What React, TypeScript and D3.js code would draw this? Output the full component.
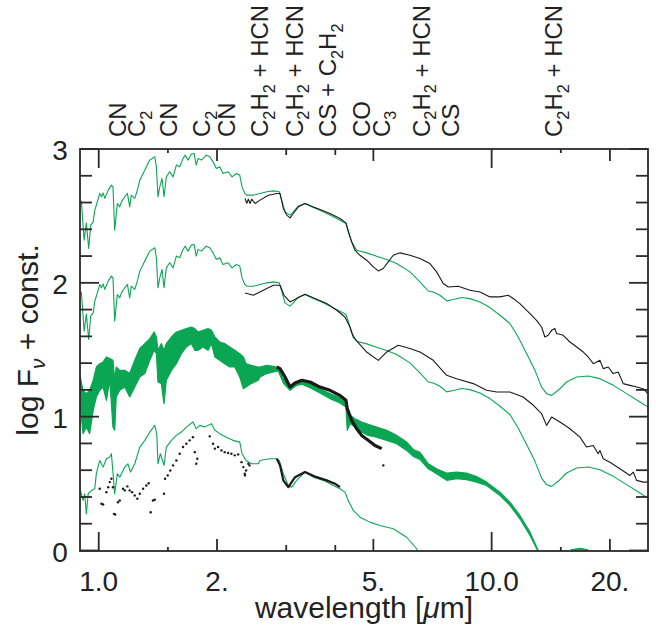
import React from "react";
import * as d3 from "d3";

// ---------- data ----------
// model spectrum of the top star: [wavelength µm, log Fν + const]
const model1: [number, number][] = [
  [0.903,2.613],[0.918,2.319],[0.930,2.446],[0.943,2.257],[0.954,2.431],[0.968,2.456],[0.977,2.543],[0.986,2.580],[1.006,2.668],[1.016,2.643],
  [1.026,2.672],[1.036,2.631],[1.057,2.693],[1.077,2.730],[1.087,2.717],[1.098,2.393],[1.115,2.593],[1.131,2.568],[1.142,2.605],[1.165,2.643],
  [1.183,2.668],[1.199,2.568],[1.210,2.655],[1.235,2.631],[1.254,2.693],[1.272,2.767],[1.297,2.817],[1.322,2.867],[1.349,2.917],[1.389,2.942],
  [1.402,2.867],[1.415,2.643],[1.430,2.717],[1.449,2.780],[1.466,2.643],[1.486,2.792],[1.516,2.830],[1.546,2.792],[1.576,2.880],[1.607,2.867],
  [1.639,2.930],[1.661,2.954],[1.688,2.917],[1.721,2.962],[1.748,2.967],[1.771,2.880],[1.790,2.930],[1.825,2.917],[1.878,2.954],[1.917,2.942],
  [1.954,2.904],[1.992,2.855],[2.032,2.867],[2.071,2.817],[2.134,2.830],[2.184,2.792],[2.240,2.817],[2.285,2.805],[2.316,2.717],[2.353,2.668],
  [2.381,2.655],[2.474,2.655],[2.573,2.668],[2.677,2.680],[2.782,2.687],[2.881,2.680],[2.922,2.618],[2.979,2.530],[3.068,2.506],[3.128,2.530],
  [3.220,2.573],[3.349,2.593],[3.483,2.568],[3.657,2.543],[3.877,2.506],[4.111,2.468],[4.258,2.444],[4.316,2.393],[4.403,2.306],[4.534,2.244],
  [4.808,2.224],[5.097,2.199],[5.405,2.174],[5.731,2.144],[6.195,2.082],[6.569,2.007],[6.897,1.939],[7.102,1.932],[7.386,1.907],[7.682,1.865],
  [7.985,1.875],[8.388,1.890],[8.806,1.882],[9.338,1.857],[9.901,1.815],[10.50,1.758],[11.13,1.696],[11.68,1.595],[12.28,1.471],[12.89,1.346],
  [13.40,1.221],[13.80,1.172],[14.21,1.159],[14.77,1.197],[15.51,1.259],[16.46,1.296],[17.61,1.304],[18.86,1.284],[20.39,1.234],[22.06,1.172],
  [23.85,1.109],[25.0,1.072],
];
// the second star uses the same model, shifted by a constant
const model2Shift = 0.68;

const obs1: [number, number][] = [
  [2.357,2.631],[2.381,2.595],[2.403,2.625],[2.427,2.593],[2.451,2.625],[2.499,2.593],[2.573,2.618],[2.702,2.655],[2.838,2.668],[2.893,2.668],
  [2.950,2.556],[3.009,2.506],[3.068,2.485],[3.128,2.518],[3.220,2.568],[3.349,2.593],[3.483,2.573],[3.657,2.548],[3.877,2.518],[4.111,2.481],
  [4.258,2.448],[4.316,2.381],[4.403,2.306],[4.489,2.244],[4.622,2.206],[4.808,2.169],[4.997,2.119],[5.146,2.089],[5.298,2.107],[5.455,2.156],
  [5.618,2.206],[5.843,2.224],[6.195,2.206],[6.569,2.182],[6.966,2.144],[7.242,2.082],[7.531,1.995],[7.754,1.969],[8.222,1.975],[8.806,1.945],
  [9.338,1.932],[9.901,1.895],[10.50,1.895],[11.02,1.907],[11.35,1.883],[11.80,1.845],[12.15,1.808],[12.52,1.770],[13.01,1.720],[13.40,1.670],
  [13.66,1.595],[13.93,1.608],[14.21,1.645],[14.49,1.658],[14.63,1.621],[15.21,1.608],[15.82,1.558],[16.46,1.521],[17.11,1.483],[17.61,1.446],
  [18.14,1.396],[18.86,1.421],[19.23,1.359],[19.80,1.371],[20.39,1.322],[21.00,1.334],[21.62,1.247],[22.49,1.234],[23.39,1.221],[24.31,1.209],
  [24.97,1.172],
];

const obs2: [number, number][] = [
  [2.357,1.924],[2.474,1.907],[2.623,1.945],[2.782,1.982],[2.893,1.982],[2.962,1.907],[3.068,1.857],[3.190,1.883],[3.349,1.915],[3.551,1.883],
  [3.803,1.845],[4.033,1.795],[4.233,1.745],[4.359,1.670],[4.445,1.595],[4.808,1.483],[5.146,1.421],[5.405,1.483],[5.785,1.533],[6.195,1.509],
  [6.569,1.483],[7.102,1.421],[7.682,1.309],[8.144,1.284],[8.977,1.247],[9.709,1.197],[10.30,1.184],[11.13,1.184],[12.03,1.147],[12.77,1.085],
  [13.40,1.022],[13.80,0.935],[14.21,0.997],[14.92,0.960],[15.82,0.910],[16.78,0.847],[17.44,0.773],[18.14,0.785],[18.67,0.723],[18.86,0.748],
  [19.23,0.686],[20.00,0.660],[21.21,0.611],[22.49,0.561],[22.93,0.586],[23.39,0.524],[24.31,0.511],[24.95,0.511],
];

// high-resolution model of the third star: [wavelength, upper envelope, lower envelope]
const model3: [number, number, number][] = [
  [0.894,1.322,1.122],[0.912,1.197,0.873],[0.930,1.172,0.922],[0.948,1.197,0.873],[0.968,1.272,1.047],[0.986,1.371,1.147],[1.006,1.396,1.197],
  [1.026,1.409,1.221],[1.046,1.446,1.122],[1.067,1.434,1.272],[1.087,1.421,0.922],[1.098,1.272,0.898],[1.108,1.371,1.147],[1.131,1.346,1.197],
  [1.165,1.346,1.221],[1.199,1.322,1.147],[1.235,1.421,1.221],[1.272,1.509,1.296],[1.310,1.546,1.322],[1.349,1.583,1.421],[1.383,1.633,1.496],
  [1.402,1.595,1.471],[1.415,1.496,1.259],[1.443,1.546,1.247],[1.466,1.496,1.097],[1.486,1.546,1.272],[1.531,1.595,1.346],[1.576,1.633,1.396],
  [1.623,1.645,1.471],[1.671,1.658,1.521],[1.721,1.670,1.546],[1.756,1.658,1.496],[1.790,1.633,1.496],[1.842,1.645,1.521],[1.898,1.658,1.496],
  [1.936,1.645,1.546],[1.975,1.595,1.446],[2.032,1.558,1.421],[2.092,1.546,1.396],[2.155,1.521,1.371],[2.219,1.496,1.371],[2.285,1.471,1.296],
  [2.334,1.446,1.209],[2.372,1.396,1.221],[2.443,1.384,1.247],[2.547,1.371,1.272],[2.573,1.371,1.296],[2.677,1.384,1.322],[2.782,1.376,1.334],
  [2.864,1.366,1.341],[2.950,1.284,1.251],[3.068,1.221,1.197],[3.190,1.259,1.234],[3.287,1.272,1.242],[3.449,1.247,1.217],[3.657,1.209,1.177],
  [3.877,1.172,1.135],[4.111,1.142,1.102],[4.258,1.122,1.072],[4.290,1.072,0.898],[4.359,1.010,0.948],[4.489,0.985,0.922],[4.670,0.960,0.885],
  [4.850,0.942,0.860],[5.097,0.922,0.847],[5.405,0.898,0.823],[5.731,0.860,0.798],[6.077,0.810,0.748],[6.317,0.755,0.703],[6.569,0.733,0.681],
  [6.897,0.648,0.611],[7.242,0.611,0.574],[7.682,0.578,0.524],[8.144,0.586,0.536],[8.636,0.578,0.529],[9.158,0.553,0.511],[9.709,0.511,0.486],
  [10.50,0.436,0.411],[11.13,0.361,0.337],[11.80,0.262,0.237],[12.52,0.137,0.112],[13.14,0.0,-0.01],[13.30,-0.03,-0.04],
];
const model3Tail: [number, number][] = [[15.9,0.0],[16.8,0.012],[17.6,0.0]];

const obs3: [number, number][] = [
  [2.838,1.371],[2.893,1.359],[2.979,1.296],[3.068,1.221],[3.159,1.251],[3.287,1.272],[3.449,1.259],[3.657,1.221],[3.877,1.197],[4.111,1.159],
  [4.258,1.122],[4.290,1.060],[4.403,0.972],[4.534,0.910],[4.670,0.860],[4.850,0.823],[5.047,0.785],[5.250,0.761],
];
const obs3Stray: [number, number][] = [[5.30,0.636]];

const model4: [number, number][] = [
  [0.894,0.473],[0.912,0.374],[0.921,0.424],[0.930,0.274],[0.940,0.424],[0.959,0.449],[0.977,0.461],[0.986,0.574],[1.006,0.673],[1.026,0.623],
  [1.046,0.686],[1.067,0.698],[1.077,0.723],[1.098,0.424],[1.115,0.574],[1.131,0.548],[1.165,0.623],[1.186,0.648],[1.205,0.586],[1.235,0.648],
  [1.272,0.773],[1.310,0.823],[1.349,0.885],[1.389,0.935],[1.405,0.873],[1.415,0.648],[1.435,0.723],[1.466,0.636],[1.486,0.773],[1.531,0.823],
  [1.576,0.860],[1.623,0.885],[1.671,0.922],[1.737,0.960],[1.771,0.910],[1.809,0.935],[1.862,0.922],[1.936,0.948],[1.975,0.898],[2.032,0.873],
  [2.113,0.847],[2.195,0.823],[2.285,0.810],[2.316,0.723],[2.372,0.673],[2.443,0.648],[2.547,0.648],[2.573,0.673],[2.729,0.686],[2.838,0.686],
  [2.881,0.673],[2.950,0.574],[3.037,0.486],[3.098,0.473],[3.190,0.524],[3.349,0.586],[3.518,0.548],[3.728,0.524],[3.954,0.486],[4.111,0.461],
  [4.233,0.436],[4.316,0.374],[4.445,0.299],[4.622,0.249],[4.901,0.212],[5.197,0.187],[5.618,0.162],[6.077,0.099],[6.442,0.013],[6.50,-0.013],
];

const obs4: [number, number][] = [
  [2.838,0.686],[2.893,0.636],[2.950,0.524],[3.037,0.473],[3.159,0.548],[3.349,0.586],[3.586,0.548],[3.803,0.524],[3.993,0.499],[4.111,0.473],
];
const obs4Dots: [number, number][] = [
  [1.006,0.461],[1.016,0.349],[1.026,0.344],[1.046,0.436],[1.057,0.473],[1.067,0.511],[1.077,0.536],[1.087,0.473],[1.093,0.274],[1.101,0.269],
  [1.119,0.361],[1.131,0.374],[1.153,0.461],[1.165,0.449],[1.183,0.479],[1.199,0.449],[1.216,0.436],[1.235,0.411],[1.254,0.387],[1.272,0.424],
  [1.297,0.461],[1.322,0.486],[1.340,0.503],[1.356,0.286],[1.374,0.374],[1.389,0.379],[1.466,0.424],[1.475,0.536],[1.498,0.561],[1.521,0.598],
  [1.546,0.636],[1.576,0.673],[1.607,0.723],[1.639,0.773],[1.671,0.798],[1.704,0.823],[1.737,0.847],[1.756,0.735],[1.771,0.648],[1.781,0.686],
  [1.917,0.853],[1.954,0.798],[1.975,0.761],[2.013,0.773],[2.053,0.748],[2.092,0.735],[2.134,0.728],[2.176,0.723],[2.219,0.711],[2.264,0.718],
  [2.309,0.660],[2.334,0.623],[2.353,0.574],[2.357,0.561],[2.372,0.598],[2.403,0.648],[2.420,0.636],
];

const bandLabels = ["CN","C_2","CN","C_2","CN","C_2H_2 + HCN","C_2H_2 + HCN","CS + C_2H_2","CO","C_3","C_2H_2 + HCN","CS","C_2H_2 + HCN"];
const bandWaves = [1.113,1.25,1.50,1.83,2.11,2.57,3.14,3.83,4.65,5.23,6.62,7.87,14.4];

const xTickValues = [1, 1.5, 2, 3, 4, 5, 10, 15, 20];
const xTickLabels = ["1.0", "", "2.", "", "", "5.", "10.0", "", "20."];
const yTickValues = [0, 1, 2, 3];
const yTickLabels = ["0", "1", "2", "3"];

// ---------- drawing ----------
const FONT = '"Liberation Sans", Arial, Helvetica, sans-serif';
const GREEN = "#0aa653";
const BLACK = "#1a1a1a";
const AXIS = "#2a2a2a";

const PL = 80, PR = 648, PT = 149, PB = 551;

function subTspans(label: string, fs: number) {
  const parts = label.split(/(_\d)/).filter((p) => p.length);
  const sub = fs * 0.68;
  const shift = fs * 0.26;
  let prevSub = false;
  return parts.map((p, i) => {
    if (p.startsWith("_")) {
      prevSub = true;
      return (
        <tspan key={i} fontSize={sub} dy={shift}>
          {p.slice(1)}
        </tspan>
      );
    }
    const dy = prevSub ? -shift : undefined;
    prevSub = false;
    return (
      <tspan key={i} dy={dy}>
        {p}
      </tspan>
    );
  });
}

export default function App() {
  const x = d3.scaleLog().domain([0.896, 25]).range([PL, PR]);
  const y = d3.scaleLinear().domain([0, 3]).range([550.5, PT]);

  const line = d3
    .line<[number, number]>()
    .x((d) => x(d[0]))
    .y((d) => y(d[1]));
  const band = d3
    .area<[number, number, number]>()
    .x((d) => x(d[0]))
    .y0((d) => y(d[2]))
    .y1((d) => y(d[1]));

  const model2 = model1.map(([l, v]) => [l, v - model2Shift] as [number, number]);

  const minorY = d3.range(0, 3.0001, 0.2).filter((v) => Math.abs(v - Math.round(v)) > 1e-6);

  const xTickLen = (v: number, label: string) =>
    v === 1 || v === 10 ? 19 : label ? 12 : v === 3 || v === 4 ? 6 : 4;

  const annFs = 24;

  return (
    <svg
      width={656}
      height={630}
      style={{ position: "absolute", left: 0, top: 0, display: "block", background: "#fff" }}
      fontFamily={FONT}
    >
      <defs>
        <clipPath id="plot">
          <rect x={PL} y={PT} width={PR - PL} height={PB - PT} />
        </clipPath>
      </defs>

      <g clipPath="url(#plot)" fill="none" strokeLinejoin="round">
        {/* star 1 */}
        <path d={line(model1) || ""} stroke={GREEN} strokeWidth={1.1} />
        <path d={line(obs1) || ""} stroke={BLACK} strokeWidth={1.1} />
        {/* star 2 */}
        <path d={line(model2) || ""} stroke={GREEN} strokeWidth={1.1} />
        <path d={line(obs2) || ""} stroke={BLACK} strokeWidth={1.1} />
        {/* star 3 */}
        <path d={band(model3) || ""} fill={GREEN} stroke={GREEN} strokeWidth={1.2} />
        <path d={line(model3Tail) || ""} stroke={GREEN} strokeWidth={2.5} />
        <path d={line(obs3) || ""} stroke={BLACK} strokeWidth={3.2} />
        {obs3Stray.map((d, i) => (
          <circle key={i} cx={x(d[0])} cy={y(d[1])} r={1.2} fill={BLACK} />
        ))}
        {/* star 4 */}
        <path d={line(model4) || ""} stroke={GREEN} strokeWidth={1.1} />
        <path d={line(obs4) || ""} stroke={BLACK} strokeWidth={2.2} />
        {obs4Dots.map((d, i) => (
          <circle key={i} cx={x(d[0])} cy={y(d[1])} r={1.2} fill={BLACK} />
        ))}
      </g>

      {/* frame */}
      <rect x={PL} y={PT} width={PR - PL} height={PB - PT} fill="none" stroke={AXIS} strokeWidth={1.8} />

      {/* x ticks top & bottom */}
      {xTickValues.map((v, i) => {
        const len = xTickLen(v, xTickLabels[i]);
        const px = x(v);
        return (
          <g key={"xt" + i} stroke={AXIS} strokeWidth={1.8}>
            <line x1={px} x2={px} y1={PB} y2={PB - len} />
            <line x1={px} x2={px} y1={PT} y2={PT + len} />
          </g>
        );
      })}
      {xTickValues.map((v, i) =>
        xTickLabels[i] ? (
          <text key={"xl" + i} x={x(v)} y={591} textAnchor="middle" fontSize={28} fill="#222">
            {xTickLabels[i]}
          </text>
        ) : null
      )}

      {/* y ticks left & right */}
      {yTickValues.map((v) => (
        <g key={"ym" + v} stroke={AXIS} strokeWidth={1.8}>
          <line x1={PL} x2={PL + 19} y1={y(v)} y2={y(v)} />
          <line x1={PR} x2={PR - 19} y1={y(v)} y2={y(v)} />
        </g>
      ))}
      {minorY.map((v, i) => (
        <g key={"yn" + i} stroke={AXIS} strokeWidth={1.8}>
          <line x1={PL} x2={PL + 12} y1={y(v)} y2={y(v)} />
          <line x1={PR} x2={PR - 12} y1={y(v)} y2={y(v)} />
        </g>
      ))}
      {yTickValues.map((v, i) => (
        <text key={"yl" + i} x={60} y={y(v) + 11} textAnchor="middle" fontSize={28} fill="#222">
          {yTickLabels[i]}
        </text>
      ))}

      {/* axis titles */}
      <text x={364} y={618} textAnchor="middle" fontSize={30} fill="#222">
        wavelength [<tspan fontStyle="italic">μ</tspan>m]
      </text>
      <text transform="translate(38,340) rotate(-90)" textAnchor="middle" fontSize={30} fill="#222">
        log F<tspan fontStyle="italic" fontSize={21} dy={7}>ν</tspan>
        <tspan dy={-7}> + const.</tspan>
      </text>

      {/* band identifications */}
      {bandLabels.map((lab, i) => (
        <text
          key={"b" + i}
          transform={`translate(${x(bandWaves[i]) + 8.6},137) rotate(-90)`}
          fontSize={annFs}
          fill="#222"
        >
          {subTspans(lab, annFs)}
        </text>
      ))}
    </svg>
  );
}
